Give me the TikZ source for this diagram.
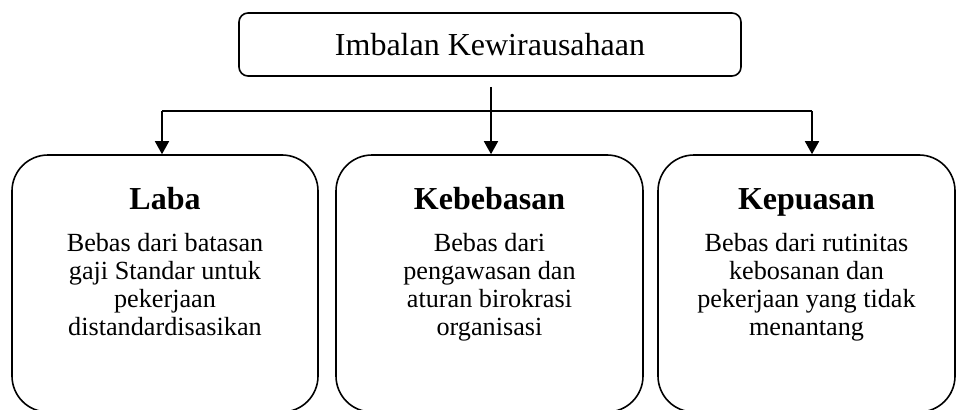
\documentclass[tikz,border=0pt]{standalone}
\usepackage{fontspec}
\setmainfont{Liberation Serif}
\usetikzlibrary{positioning,arrows.meta}

\begin{document}
\begin{tikzpicture}[x=1pt,y=-1pt,line width=1.6pt,
  rootbox/.style={draw,rounded corners=9pt,minimum width=502pt,minimum height=63pt,inner sep=0pt,font=\fontsize{32}{36}\selectfont},
  bigbox/.style={draw,rounded corners=36pt,minimum height=257pt,inner sep=0pt},
  head/.style={anchor=base,inner sep=0pt,font=\fontsize{32}{36}\selectfont\bfseries},
  body/.style={anchor=base,inner sep=0pt,align=center,font=\fontsize{26.2}{27.7}\selectfont},
  tip/.style={-{Triangle[width=14pt,length=13pt]}}]
\useasboundingbox (0,0) rectangle (957,409);
% root
\node[rootbox] (imbalan) at (490,44.5) {Imbalan Kewirausahaan};
% three boxes
\node[bigbox,minimum width=306pt] (laba) at (165,283.5) {};
\node[bigbox,minimum width=307pt] (bebas) at (489.5,283.5) {};
\node[bigbox,minimum width=297pt] (puas) at (806.5,283.5) {};
\node[head] (labaH) at (165,209) {Laba};
\node[head] (bebasH) at (489.5,209) {Kebebasan};
\node[head] (puasH) at (806.5,209) {Kepuasan};
% base anchor sits on the last line
\node[body] (labaT) at (165,335) {Bebas dari batasan\\gaji Standar untuk\\pekerjaan\\distandardisasikan};
\node[body] (bebasT) at (489.5,335) {Bebas dari\\pengawasan dan\\aturan birokrasi\\organisasi};
\node[body] (puasT) at (806.5,335) {Bebas dari rutinitas\\kebosanan dan\\pekerjaan yang tidak\\menantang};
% connectors
\coordinate (stem) at (491,87);
\coordinate (split) at (491,111);
\coordinate (left) at (162,111);
\coordinate (right) at (812,111);
\draw (stem) -- (split);
\draw (left) -- (right);
\draw[tip] (left) -- (left |- laba.north);
\draw[tip] (split) -- (split |- bebas.north);
\draw[tip] (right) -- (right |- puas.north);
\end{tikzpicture}
\end{document}
